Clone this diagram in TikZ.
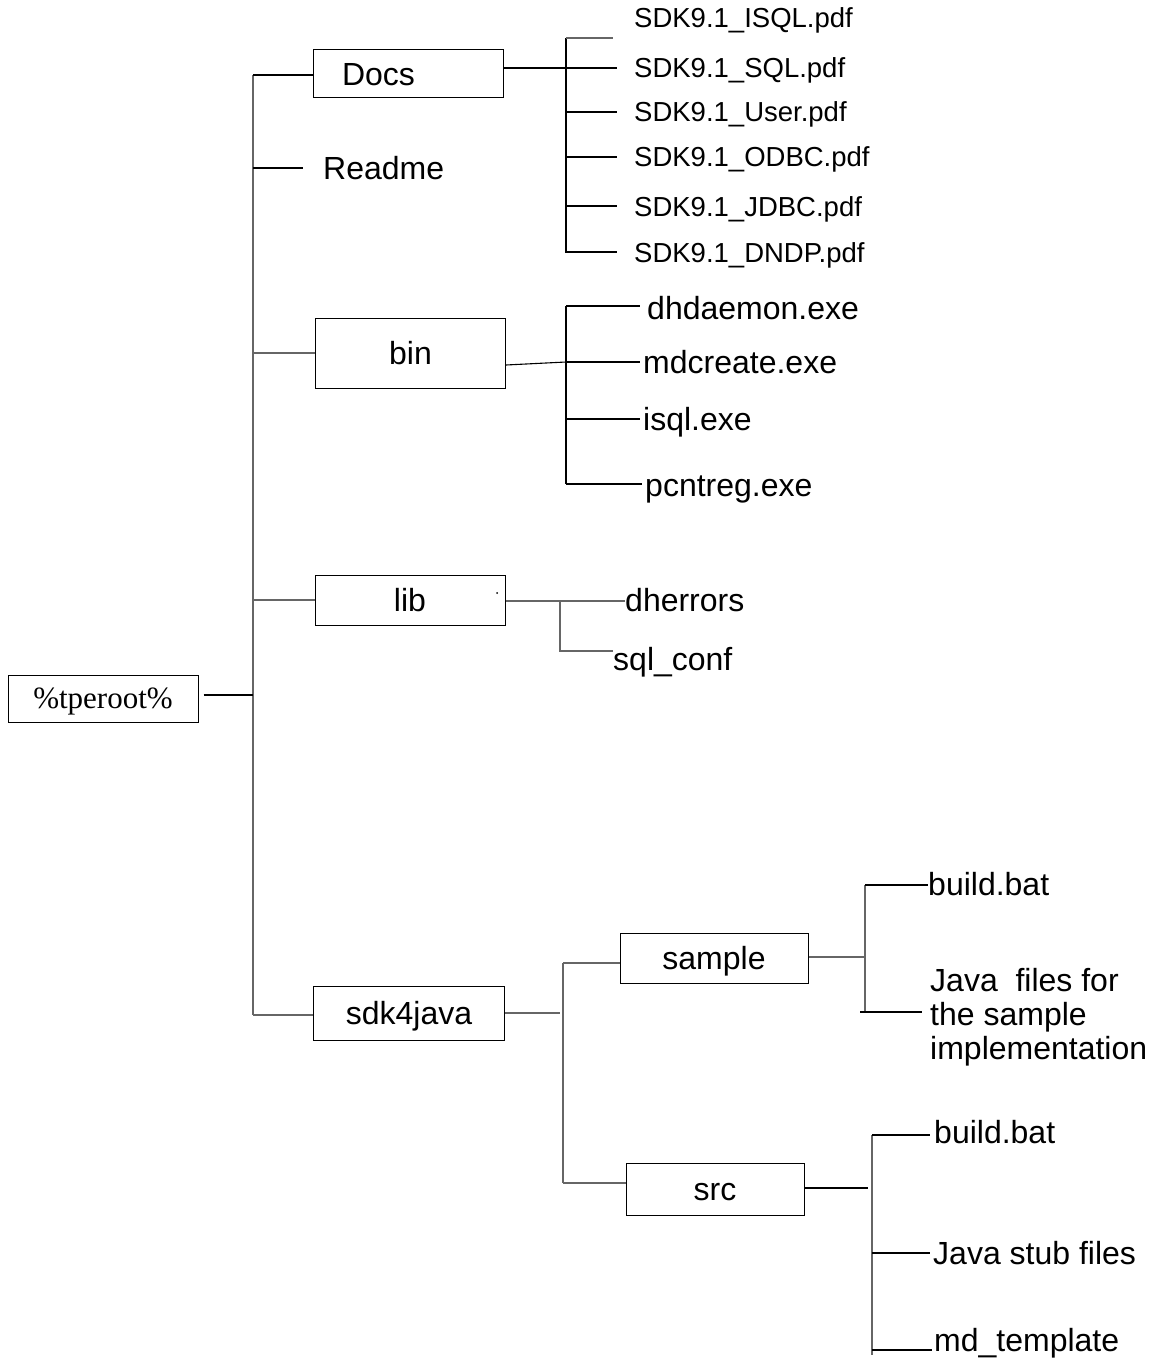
\documentclass[tikz,border=0pt]{standalone}
\usepackage{fontspec}
\setmainfont{Liberation Sans}
\newfontfamily\rootfont{Liberation Serif}
\begin{document}
\begin{tikzpicture}[x=1pt,y=-1pt,
  thinline/.style={draw=black!60, line width=1.1pt},
  thickline/.style={draw=black, line width=1.9pt},
  box/.style={draw=black, line width=1pt, inner sep=0pt, text height=23pt, text depth=0pt, font=\fontsize{32}{36}\selectfont},
  lbl/.style={anchor=west, inner sep=0pt, text height=23pt, text depth=0pt, font=\fontsize{32}{36}\selectfont},
  pdf/.style={anchor=west, inner sep=0pt, text height=20pt, text depth=0pt, font=\fontsize{27.5}{32}\selectfont},
]
\useasboundingbox (0,0) rectangle (1154,1359);

% root and trunk
\node[box, minimum width=190pt, minimum height=47pt, text height=20pt, font=\fontsize{31}{36}\rootfont] (root) at (103,698.5) {\%tperoot\%};
\coordinate (ttop) at (253,75);
\coordinate (troot) at (253,695);
\coordinate (tbot) at (253,1015);
\draw[thinline] (ttop) -- (tbot);
\draw[thickline] ([xshift=5pt]root.east |- troot) -- (troot);

% Docs
\node[box, minimum width=190pt, minimum height=48pt] (docs) at (408,74) {Docs\kern59pt};
\node[lbl] (readme) at (323,168) {Readme};
\draw[thickline] (ttop) -- (docs.west |- ttop);
\draw[thickline] (readme.west -| ttop) -- ([xshift=-20pt]readme.west);

\node[pdf] (f1) at (634,18) {SDK9.1\_ISQL.pdf};
\node[pdf] (f2) at (634,68) {SDK9.1\_SQL.pdf};
\node[pdf] (f3) at (634,112) {SDK9.1\_User.pdf};
\node[pdf] (f4) at (634,157) {SDK9.1\_ODBC.pdf};
\node[pdf] (f5) at (634,206) {SDK9.1\_JDBC.pdf};
\node[pdf] (f6) at (634,252) {SDK9.1\_DNDP.pdf};
\coordinate (dtop) at (566,38);
\coordinate (dbot) at (566,253);
\coordinate (f1end) at (613,38);
\draw[thickline] (docs.east |- f2.west) -- (f2.west -| dtop);
\draw[thickline, line width=1.5pt] (dtop) -- (dbot);
\draw[thinline] (dtop) -- (f1end);
\foreach \f in {f2,f3,f4,f5,f6}
  \draw[thickline, line width=1.5pt] (\f.west -| dtop) -- ([xshift=-17pt]\f.west);

% bin
\node[box, minimum width=190pt, minimum height=70pt] (bin) at (410.5,353) {bin};
\draw[thinline] (bin.west -| ttop) -- (bin.west);
\node[lbl] (e1) at (647,308) {dhdaemon.exe};
\node[lbl] (e2) at (643,362) {mdcreate.exe};
\node[lbl] (e3) at (643,419) {isql.exe};
\node[lbl] (e4) at (645,485) {pcntreg.exe};
\coordinate (btop) at (566,306);
\coordinate (bbot) at (566,484);
\draw[thinline, draw=black] ([yshift=-12pt]bin.east) -- (e2.west -| btop);
\draw[thickline, line width=1.5pt] (btop) -- (bbot);
\draw[thickline, line width=1.5pt] (btop) -- ([xshift=-7pt]e1.west |- btop);
\draw[thickline, line width=1.5pt] (e2.west -| btop) -- ([xshift=-3pt]e2.west);
\draw[thickline, line width=1.5pt] (e3.west -| btop) -- ([xshift=-3pt]e3.west);
\draw[thickline, line width=1.5pt] (bbot) -- ([xshift=-3pt]e4.west |- bbot);

% lib
\node[box, minimum width=190pt, minimum height=50pt] (lib) at (410,600) {lib};
\fill (497,593) circle (1pt);
\draw[thinline] (lib.west -| ttop) -- (lib.west);
\node[lbl] (l1) at (625,600) {dherrors};
\node[lbl] (l2) at (613,659) {sql\_conf};
\coordinate (ljn) at (560,601);
\coordinate (lbot) at (560,651);
\coordinate (l2end) at (613,651);
\draw[thinline] (lib.east |- ljn) -- (ljn) -- (l1.west |- ljn);
\draw[thinline] (ljn) -- (lbot) -- (l2end);

% sdk4java
\node[box, minimum width=191pt, minimum height=54pt] (sdk) at (409,1013) {sdk4java};
\draw[thinline] (tbot) -- (sdk.west |- tbot);
\node[box, minimum width=188pt, minimum height=50pt] (sample) at (714,958) {sample};
\node[box, minimum width=178pt, minimum height=52pt] (src) at (715,1189) {src};
\coordinate (sj) at (560,1013);
\coordinate (stop) at (563,963);
\coordinate (sbot) at (563,1183);
\draw[thinline] (sdk.east |- sj) -- (sj);
\draw[thinline] (stop) -- (sbot);
\draw[thinline] (stop) -- (sample.west |- stop);
\draw[thinline] (sbot) -- (src.west |- sbot);

% sample children
\node[lbl] (s1) at (928,884) {build.bat};
\node[anchor=west, inner sep=0pt, align=left, font=\fontsize{32}{34}\selectfont] (s2) at (930,1017) {Java \ files for\\the sample\\implementation};
\coordinate (mtop) at (865,885);
\coordinate (mj) at (865,957);
\coordinate (mbot) at (865,1012);
\coordinate (mleft) at (860,1012);
\coordinate (s2end) at (922,1012);
\draw[thinline] (sample.east |- mj) -- (mj);
\draw[thinline] (mtop) -- (mbot);
\draw[thinline, draw=black] (mtop) -- (s1.west |- mtop);
\draw[thinline, draw=black] (mleft) -- (s2end);

% src children
\node[lbl] (c1) at (934,1132) {build.bat};
\node[lbl] (c2) at (933,1253) {Java stub files};
\node[lbl] (c3) at (934,1340) {md\_template};
\coordinate (ctop) at (872,1135);
\coordinate (cbot) at (872,1355);
\coordinate (cj) at (868,1188);
\coordinate (c3j) at (872,1350);
\draw[thickline, line width=1.7pt] (src.east |- cj) -- (cj);
\draw[thinline] (ctop) -- (cbot);
\draw[thinline, draw=black] (ctop) -- ([xshift=-4pt]c1.west |- ctop);
\draw[thinline, draw=black] (c2.west -| ctop) -- ([xshift=-3pt]c2.west);
\draw[thinline, draw=black] (c3j) -- ([xshift=-2pt]c3.west |- c3j);
\end{tikzpicture}
\end{document}
